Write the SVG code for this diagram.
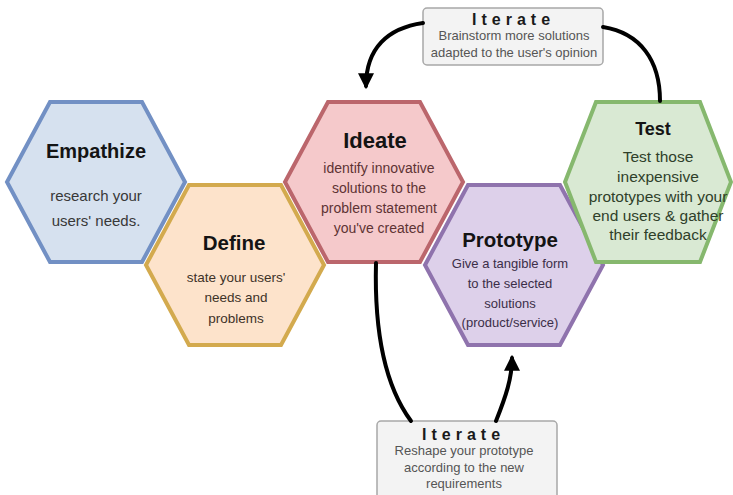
<svg xmlns="http://www.w3.org/2000/svg" width="733" height="495" viewBox="0 0 733 495">
  <style>
    .hex { stroke-width: 4; stroke-linejoin: miter; }
    .title { font-family: "Liberation Sans", Arial, sans-serif; font-weight: bold; fill: #141414; text-anchor: middle; }
    .body { font-family: "Liberation Sans", Arial, sans-serif; text-anchor: middle; }
    .box { fill: #f3f3f3; stroke: #a8a8a8; stroke-width: 1.5; }
    .iter { font-family: "Liberation Sans", Arial, sans-serif; font-weight: bold; font-size: 16px; letter-spacing: 5px; fill: #1a1a1a; }
    .note { font-family: "Liberation Sans", Arial, sans-serif; font-size: 13px; fill: #555; text-anchor: middle; }
    .flow { fill: none; stroke: #000; stroke-width: 4; stroke-linecap: round; }
  </style>
  <defs>
    <marker id="head" viewBox="0 0 10 10" refX="8" refY="5" markerWidth="4" markerHeight="4" orient="auto" markerUnits="strokeWidth">
      <path d="M0,0 L10,5 L0,10 Z" fill="#000"/>
    </marker>
  </defs>

  <rect width="733" height="495" fill="#ffffff"/>

  <g id="empathize">
    <polygon class="hex" points="50,102 142,102 185,182 142,262 50,262 7,182" fill="#d6e1ef" stroke="#7290c4"/>
    <text class="title" x="96" y="158" font-size="20">Empathize</text>
    <text class="body" x="96" font-size="15" fill="#383838"><tspan x="96" y="201">research your</tspan><tspan x="96" y="226">users' needs.</tspan></text>
  </g>

  <g id="define">
    <polygon class="hex" points="189,185 281,185 324,265 281,345 189,345 146,265" fill="#fde3cb" stroke="#d3aa4e"/>
    <text class="title" x="234" y="250" font-size="20.5">Define</text>
    <text class="body" font-size="13.5" fill="#3d3228"><tspan x="236" y="282">state your users'</tspan><tspan x="236" y="302">needs and</tspan><tspan x="236" y="323">problems</tspan></text>
  </g>

  <g id="ideate">
    <polygon class="hex" points="328,102 420,102 463,182 420,262 328,262 285,182" fill="#f5c9cb" stroke="#bb666c"/>
    <text class="title" x="375" y="148" font-size="22">Ideate</text>
    <text class="body" font-size="14" fill="#5e3334"><tspan x="379" y="173">identify innovative</tspan><tspan x="379" y="193">solutions to the</tspan><tspan x="379" y="213">problem statement</tspan><tspan x="379" y="233">you've created</tspan></text>
  </g>

  <g id="prototype">
    <polygon class="hex" points="468,185 560,185 603,265 560,345 468,345 425,265" fill="#ddd0ea" stroke="#8f73ad"/>
    <text class="title" x="510" y="247" font-size="20.5">Prototype</text>
    <text class="body" font-size="13" fill="#3b2e48"><tspan x="510" y="268">Give a tangible form</tspan><tspan x="510" y="288">to the selected</tspan><tspan x="510" y="308">solutions</tspan><tspan x="510" y="327">(product/service)</tspan></text>
  </g>

  <g id="test">
    <polygon class="hex" points="596,102 700,102 731,182 700,262 596,262 565,182" fill="#d9e9d3" stroke="#86b86e"/>
    <text class="title" x="653" y="135" font-size="18">Test</text>
    <text class="body" font-size="15.5" fill="#2f3f2a"><tspan x="658" y="162">Test those</tspan><tspan x="658" y="182">inexpensive</tspan><tspan x="658" y="202">prototypes with your</tspan><tspan x="658" y="221">end users &amp; gather</tspan><tspan x="658" y="240">their feedback</tspan></text>
  </g>

  <g id="iterate-ideas">
    <rect class="box" x="423" y="8" width="180" height="57" rx="4"/>
    <text class="iter" x="472" y="25">Iterate</text>
    <text class="note"><tspan x="514" y="40">Brainstorm more solutions</tspan><tspan x="514" y="57">adapted to the user's opinion</tspan></text>
  </g>

  <g id="iterate-prototype">
    <rect class="box" x="377" y="421" width="180" height="82" rx="4"/>
    <text class="iter" x="422" y="440">Iterate</text>
    <text class="note"><tspan x="464" y="455">Reshape your prototype</tspan><tspan x="464" y="472">according to the new</tspan><tspan x="464" y="488">requirements</tspan></text>
  </g>

  <g id="connectors">
    <path class="flow" d="M423,23 C388,28 366,48 366,86" marker-end="url(#head)"/>
    <path class="flow" d="M603,27 C640,33 660,60 660,101"/>
    <path class="flow" d="M376,263 C374,340 388,390 411,421"/>
    <path class="flow" d="M496,421 C506,396 512,378 512,358" marker-end="url(#head)"/>
  </g>
</svg>
